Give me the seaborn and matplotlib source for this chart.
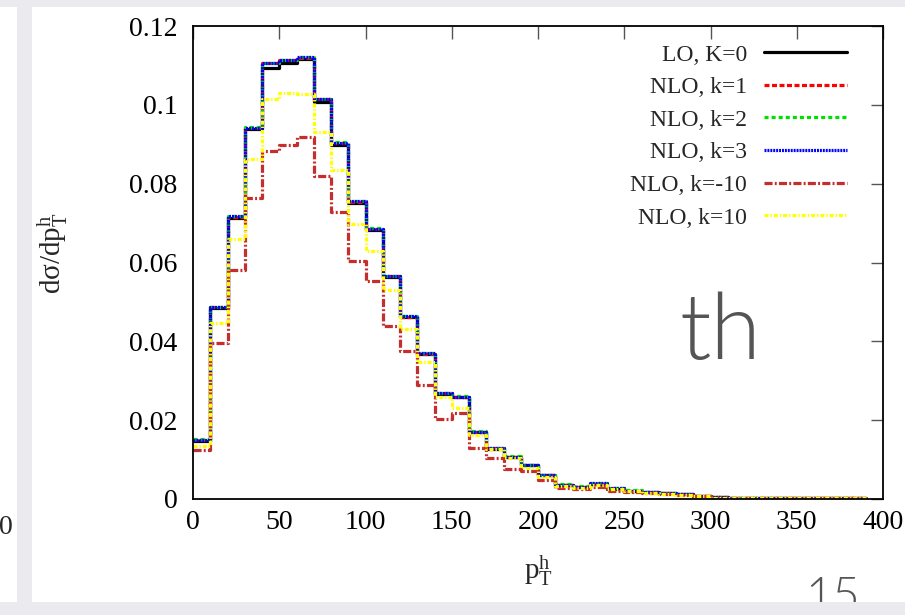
import matplotlib
matplotlib.use("Agg")
import matplotlib.pyplot as plt
from matplotlib.patches import Rectangle
import pandas as pd
import seaborn as sns

# bins of p_T^h (GeV), width 10
bin_edges = list(range(0, 400, 10))
bin_centers = [e + 5 for e in bin_edges[:-1]]

lo_k0 = [0.0148, 0.0485, 0.0713, 0.0938, 0.1094, 0.1107, 0.1116, 0.1008, 0.0899, 0.0750,
         0.0682, 0.0563, 0.0461, 0.0367, 0.0266, 0.0258, 0.0169, 0.0128, 0.0106, 0.0085,
         0.0060, 0.0036, 0.0031, 0.0038, 0.0026, 0.0021, 0.0018, 0.0014, 0.0012, 0.0008,
         0.0004, 0.0003, 0.0003, 0.0003, 0.0002, 0.0002, 0.0002, 0.0002, 0.0002]
nlo_k1 = [0.0150, 0.0487, 0.0716, 0.0941, 0.1105, 0.1113, 0.1120, 0.1014, 0.0903, 0.0754,
          0.0685, 0.0565, 0.0463, 0.0369, 0.0268, 0.0259, 0.0170, 0.0129, 0.0107, 0.0086,
          0.0061, 0.0036, 0.0031, 0.0039, 0.0027, 0.0021, 0.0018, 0.0014, 0.0013, 0.0008,
          0.0004, 0.0003, 0.0003, 0.0003, 0.0002, 0.0002, 0.0002, 0.0002, 0.0002]
nlo_k2 = [0.0151, 0.0488, 0.0718, 0.0943, 0.1107, 0.1115, 0.1122, 0.1016, 0.0905, 0.0756,
          0.0687, 0.0567, 0.0465, 0.0371, 0.0270, 0.0261, 0.0172, 0.0130, 0.0108, 0.0087,
          0.0062, 0.0037, 0.0032, 0.0040, 0.0028, 0.0022, 0.0018, 0.0015, 0.0013, 0.0008,
          0.0004, 0.0003, 0.0003, 0.0003, 0.0003, 0.0002, 0.0002, 0.0002, 0.0002]
nlo_k3 = [0.0150, 0.0487, 0.0717, 0.0942, 0.1106, 0.1114, 0.1121, 0.1015, 0.0904, 0.0755,
          0.0686, 0.0566, 0.0464, 0.0370, 0.0269, 0.0260, 0.0171, 0.0129, 0.0107, 0.0086,
          0.0061, 0.0036, 0.0031, 0.0040, 0.0028, 0.0021, 0.0018, 0.0014, 0.0013, 0.0008,
          0.0004, 0.0003, 0.0003, 0.0003, 0.0003, 0.0002, 0.0002, 0.0002, 0.0002]
nlo_km10 = [0.0124, 0.0396, 0.0580, 0.0764, 0.0884, 0.0898, 0.0918, 0.0820, 0.0727, 0.0604,
            0.0552, 0.0440, 0.0376, 0.0289, 0.0203, 0.0219, 0.0129, 0.0104, 0.0076, 0.0072,
            0.0047, 0.0028, 0.0025, 0.0031, 0.0021, 0.0018, 0.0015, 0.0012, 0.0010, 0.0007,
            0.0003, 0.0003, 0.0002, 0.0002, 0.0002, 0.0002, 0.0002, 0.0002, 0.0002]
nlo_k10 = [0.0135, 0.0447, 0.0660, 0.0862, 0.1014, 0.1030, 0.1028, 0.0930, 0.0835, 0.0698,
           0.0628, 0.0530, 0.0431, 0.0348, 0.0260, 0.0231, 0.0162, 0.0127, 0.0104, 0.0078,
           0.0055, 0.0033, 0.0028, 0.0036, 0.0025, 0.0020, 0.0016, 0.0013, 0.0011, 0.0008,
           0.0003, 0.0003, 0.0003, 0.0002, 0.0002, 0.0002, 0.0002, 0.0002, 0.0002]

series_labels = ["LO, K=0", "NLO, k=1", "NLO, k=2", "NLO, k=3", "NLO, k=-10", "NLO, k=10"]
series_values = [lo_k0, nlo_k1, nlo_k2, nlo_k3, nlo_km10, nlo_k10]
series_colors = ["#000000", "#ff0000", "#00e000", "#0000ff", "#c42e2e", "#ffff00"]
series_dashes = ["-", (0, (3.6, 1.8)), (0, (2.9, 2.2)), (0, (1.4, 0.7)),
                 (0, (5.8, 1.6, 1.4, 1.6)), (0, (2.9, 1.4, 1.0, 1.4))]

x_ticks = [0, 50, 100, 150, 200, 250, 300, 350, 400]
y_ticks = [0, 0.02, 0.04, 0.06, 0.08, 0.1, 0.12]

sns.set_style("white")
plt.rcParams["font.family"] = ["Liberation Serif", "DejaVu Serif"]
plt.rcParams["mathtext.fontset"] = "custom"
plt.rcParams["mathtext.rm"] = "Liberation Serif"
plt.rcParams["mathtext.it"] = "Liberation Serif:italic"
plt.rcParams["lines.scale_dashes"] = False

fig = plt.figure(figsize=(9.05, 6.15), dpi=100)
fig.patch.set_facecolor("white")
ax = fig.add_axes([193 / 905, 1 - 499 / 615, 690 / 905, 473 / 615])

for vals, lab, col, ls in zip(series_values, series_labels, series_colors, series_dashes):
    df = pd.DataFrame({"pt": bin_centers, "w": vals})
    sns.histplot(data=df, x="pt", weights="w", bins=bin_edges, element="step", fill=False,
                 color=col, linewidth=2.3, linestyle=ls, label=lab, ax=ax)

ax.set_xlim(0, 400)
ax.set_ylim(0, 0.12)
ax.set_xticks(x_ticks)
ax.set_xticklabels([str(t) for t in x_ticks])
ax.set_yticks(y_ticks)
ax.set_yticklabels([f"{t:g}" for t in y_ticks])
ax.tick_params(direction="in", length=9, width=1, colors="#555555", labelcolor="black",
               top=True, right=True, labelsize=20)
ax.tick_params(axis="y", pad=11)
ax.tick_params(axis="x", pad=8)
for sp in ax.spines.values():
    sp.set_color("black")
    sp.set_linewidth(1.3)
ax.grid(False)

ax.set_xlabel(r"p$_\mathrm{T}^\mathrm{h}$", fontsize=21)
ax.set_ylabel(r"dσ/dp$_\mathrm{T}^\mathrm{h}$", fontsize=21)
ax.xaxis.set_label_coords(0.5, -0.115)
ax.yaxis.set_label_coords(-0.178, 0.52)

leg = ax.legend(loc="upper right", bbox_to_anchor=(0.948, 0.962), frameon=False,
                markerfirst=False, fontsize=17, handlelength=3.5, handletextpad=0.75,
                labelspacing=0.47, borderaxespad=0, borderpad=0)

# slide decorations around the chart
band = "#ebebef"
fig.patches.append(Rectangle((0, 1 - 7 / 615), 1, 7 / 615, transform=fig.transFigure,
                             facecolor=band, edgecolor="none", zorder=5))
fig.patches.append(Rectangle((17 / 905, 0), 15 / 905, 1, transform=fig.transFigure,
                             facecolor=band, edgecolor="none", zorder=5))
fig.text(6 / 905, 1 - 527 / 615, "0", fontsize=20, ha="center", va="center")
fig.text(720 / 905, 1 - 333 / 615, "th", fontsize=66, family=["Lato", "DejaVu Sans"],
         fontweight=300, color="#555555", ha="center", va="center")
fig.text(833 / 905, 4 / 615, "15", fontsize=34, family=["Lato", "DejaVu Sans"],
         fontweight=300, color="#555555", ha="center", va="baseline")
fig.patches.append(Rectangle((0, 0), 1, 13 / 615, transform=fig.transFigure,
                             facecolor=band, edgecolor="none", zorder=10))

fig.savefig("out.png", dpi=100, facecolor="white")
